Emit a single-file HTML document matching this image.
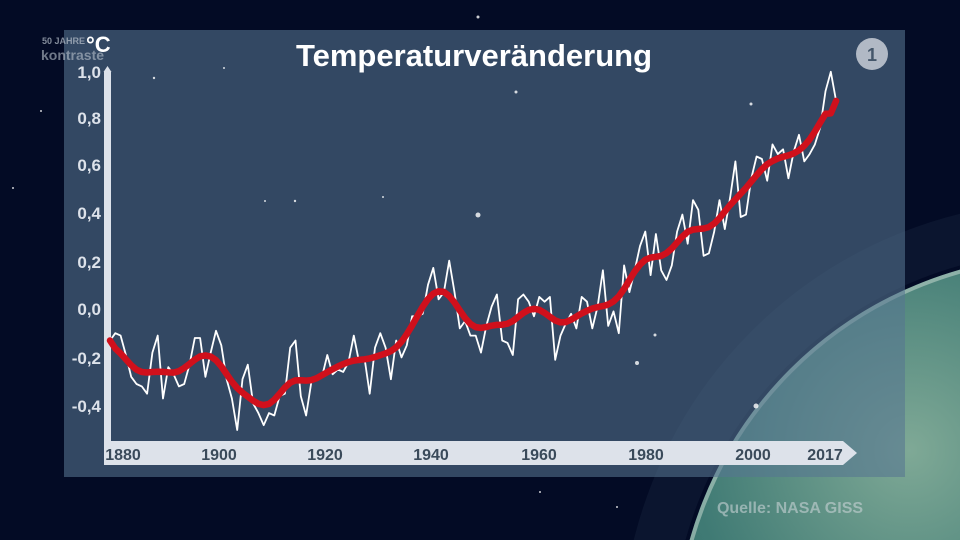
<!DOCTYPE html>
<html><head><meta charset="utf-8"><style>
html,body{margin:0;padding:0;background:#030b25;width:960px;height:540px;overflow:hidden}
svg{display:block}
text{font-family:"Liberation Sans",sans-serif;font-weight:bold}
</style></head><body>
<svg id="s" width="960" height="540" viewBox="0 0 960 540" xmlns="http://www.w3.org/2000/svg" style="overflow:hidden">
<defs>
<radialGradient id="earth" cx="0.3" cy="0.25" r="0.8">
<stop offset="0" stop-color="#7fa996"/><stop offset="0.35" stop-color="#3f7a74"/><stop offset="1" stop-color="#244f4c"/>
</radialGradient>
<clipPath id="c"><rect width="960" height="540"/></clipPath>
</defs>
<g clip-path="url(#c)">
<rect width="960" height="540" fill="#030b25"/>
<circle cx="1066" cy="646" r="420" fill="none" stroke="#6f8aa5" stroke-opacity="0.08" stroke-width="50"/>
<circle cx="1066" cy="646" r="391" fill="url(#earth)"/>
<circle cx="1066" cy="646" r="389" fill="none" stroke="#cfe0d6" stroke-opacity="0.5" stroke-width="4"/>
<rect x="64" y="30" width="841" height="447" fill="#567590" fill-opacity="0.58"/>
<g fill="#fff" opacity="0.8">
<circle cx="154" cy="78" r="1.2"/><circle cx="224" cy="68" r="1"/><circle cx="478" cy="215" r="2.5"/><circle cx="516" cy="92" r="1.5"/><circle cx="478" cy="17" r="1.5"/><circle cx="751" cy="104" r="1.5"/><circle cx="655" cy="335" r="1.5"/><circle cx="637" cy="363" r="2"/><circle cx="756" cy="406" r="2.5"/><circle cx="295" cy="201" r="1.2"/><circle cx="383" cy="197" r="1"/><circle cx="265" cy="201" r="1"/><circle cx="41" cy="111" r="1"/><circle cx="13" cy="188" r="1"/><circle cx="540" cy="492" r="1"/><circle cx="617" cy="507" r="1"/>
</g>
<text x="474" y="66" fill="#fff" font-size="31" text-anchor="middle">Temperaturveränderung</text>
<text x="86" y="52" fill="#fff" font-size="22">°C</text>
<text x="42" y="44" fill="#b9c2cc" font-size="9" font-weight="normal" opacity="0.7">50 JAHRE</text>
<text x="41" y="60" fill="#b9c2cc" font-size="14" opacity="0.6">kontraste</text>
<circle cx="872" cy="54" r="16" fill="#c8ced6" opacity="0.85"/>
<text x="872" y="61" fill="#44566a" font-size="18" text-anchor="middle">1</text>
<rect x="104" y="72" width="7" height="370" fill="#dde2ea"/>
<path d="M103.5 72 L107.5 66 L111.5 72Z" fill="#dde2ea"/>
<path d="M104 441 H843 L857 453 L843 465 H104Z" fill="#dde2ea"/>
<g fill="#dde2ea" font-size="17" text-anchor="end">
<text x="101" y="78">1,0</text><text x="101" y="124">0,8</text><text x="101" y="171">0,6</text><text x="101" y="219">0,4</text><text x="101" y="268">0,2</text><text x="101" y="315">0,0</text><text x="101" y="364">-0,2</text><text x="101" y="412">-0,4</text>
</g>
<g fill="#3a4a5a" font-size="16" text-anchor="middle">
<text x="123" y="460">1880</text><text x="219" y="460">1900</text><text x="325" y="460">1920</text><text x="431" y="460">1940</text><text x="539" y="460">1960</text><text x="646" y="460">1980</text><text x="753" y="460">2000</text><text x="825" y="460">2017</text>
</g>
<path id="w" fill="none" stroke="#fff" stroke-width="1.8" stroke-linejoin="round"/>
<path id="r" fill="none" stroke="#d0101c" stroke-width="6.5" stroke-linecap="round" stroke-linejoin="round"/>
<text x="790" y="513" fill="#c9d3d6" font-size="16" font-weight="normal" text-anchor="middle" opacity="0.6">Quelle: NASA GISS</text>
</g>
</svg>
<script>
var d=[-0.13,-0.10,-0.11,-0.19,-0.28,-0.31,-0.32,-0.35,-0.18,-0.11,-0.37,-0.24,-0.27,-0.32,-0.31,-0.23,-0.12,-0.12,-0.28,-0.18,-0.09,-0.15,-0.29,-0.37,-0.50,-0.29,-0.23,-0.39,-0.43,-0.48,-0.43,-0.44,-0.36,-0.35,-0.16,-0.13,-0.36,-0.44,-0.30,-0.28,-0.28,-0.19,-0.27,-0.25,-0.26,-0.22,-0.11,-0.22,-0.20,-0.35,-0.16,-0.10,-0.16,-0.29,-0.13,-0.20,-0.15,-0.03,-0.03,-0.02,0.10,0.17,0.04,0.07,0.20,0.07,-0.08,-0.05,-0.11,-0.11,-0.18,-0.07,0.01,0.06,-0.13,-0.14,-0.19,0.04,0.06,0.03,-0.03,0.05,0.03,0.05,-0.21,-0.11,-0.06,-0.02,-0.08,0.05,0.03,-0.08,0.01,0.16,-0.07,-0.01,-0.10,0.18,0.07,0.16,0.26,0.32,0.14,0.31,0.16,0.12,0.18,0.32,0.39,0.27,0.45,0.41,0.22,0.23,0.32,0.45,0.33,0.46,0.61,0.38,0.39,0.54,0.63,0.62,0.53,0.68,0.64,0.66,0.54,0.65,0.72,0.61,0.64,0.68,0.75,0.90,0.98,0.86];
function X(i){return 110+i*5.3}function Y(v){return 309-242*v}
var w="",r="",sm=[];
for(var i=0;i<d.length;i++){w+=(i?"L":"M")+X(i).toFixed(1)+" "+Y(d[i]).toFixed(1);
var s=0,n=0;for(var k=-6;k<=6;k++){var j=i+k;if(j>=0&&j<d.length){var wt=Math.exp(-k*k/12);s+=d[j]*wt;n+=wt;}}
sm.push(s/n);}
sm[0]=-0.13;sm[d.length-1]=0.86;sm[d.length-2]=(sm[d.length-2]+0.78)/2;
for(var i=0;i<sm.length;i++)r+=(i?"L":"M")+X(i).toFixed(1)+" "+Y(sm[i]).toFixed(1);
document.getElementById("w").setAttribute("d",w);
document.getElementById("r").setAttribute("d",r);
</script>
</body></html>
